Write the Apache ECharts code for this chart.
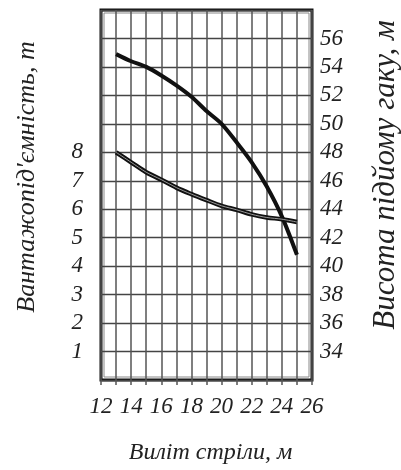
<!DOCTYPE html>
<html lang="uk">
<head>
    <meta charset="UTF-8">
    <title>Вантажна характеристика крана</title>
    <script src="https://cdn.jsdelivr.net/npm/echarts@6.0.0/dist/echarts.min.js"></script>
    <style>
        html, body { margin: 0; padding: 0; background: #fff; }
    </style>
</head>
<body>
<div id="chart" style="width: 401px;height:470px"></div>
<script>
    // виліт стріли, м
    var reach = [13, 14, 15, 16, 17, 18, 19, 20, 21, 22, 23, 24, 25];
    // вантажопідйомність, т (ліва вісь)
    var capacity = [8.0, 7.65, 7.3, 7.04, 6.76, 6.53, 6.32, 6.12, 5.98, 5.82, 5.71, 5.65, 5.55];
    // висота підйому гаку, м (права вісь)
    var hookHeight = [54.9, 54.4, 54.0, 53.4, 52.7, 51.9, 50.9, 50.0, 48.7, 47.3, 45.6, 43.5, 40.8];

    var xTicks = [12, 14, 16, 18, 20, 22, 24, 26];
    var leftTicks = [1, 2, 3, 4, 5, 6, 7, 8];
    var rightTicks = [34, 36, 38, 40, 42, 44, 46, 48, 50, 52, 54, 56];

    var font = 'Liberation Serif';

    function pairs(xs, ys) {
        return xs.map(function (x, i) { return [x, ys[i]]; });
    }

    var chart = echarts.init(document.getElementById('chart'), null, {renderer: 'canvas'});

    var option = {
        backgroundColor: '#fff',
        animation: false,
        grid: {
            left: 101, right: 89, top: 10, bottom: 90,
            show: true,
            borderWidth: 3,
            borderColor: '#111'
        },
        xAxis: {
            type: 'value',
            min: 12, max: 26, interval: 1,
            name: 'Виліт стріли, м',
            nameLocation: 'middle',
            nameGap: 61,
            nameTextStyle: {fontFamily: font, fontStyle: 'italic', fontSize: 24, color: '#222', padding: [0, 0, 0, 8]},
            axisLine: {show: false},
            axisTick: {show: true, length: 5, lineStyle: {color: '#555', width: 1.5}},
            axisLabel: {
                margin: 15,
                fontFamily: font, fontStyle: 'italic', fontSize: 23, color: '#222',
                formatter: function (v) { return xTicks.indexOf(v) >= 0 ? String(v) : ''; }
            },
            splitLine: {lineStyle: {color: '#555', width: 1.5}}
        },
        yAxis: [
            {
                type: 'value',
                min: 0, max: 13, interval: 1,
                axisLine: {show: false},
                axisTick: {show: false},
                axisLabel: {
                    margin: 18,
                    fontFamily: font, fontStyle: 'italic', fontSize: 23, color: '#222',
                    formatter: function (v) { return leftTicks.indexOf(v) >= 0 ? String(v) : ''; }
                },
                splitLine: {lineStyle: {color: '#444', width: 1.3}}
            },
            {
                type: 'value',
                position: 'right',
                min: 32, max: 58, interval: 2,
                axisLine: {show: false},
                axisTick: {show: false},
                axisLabel: {
                    margin: 8,
                    padding: [0, 0, 14, 0],
                    fontFamily: font, fontStyle: 'italic', fontSize: 23, color: '#222',
                    formatter: function (v) { return rightTicks.indexOf(v) >= 0 ? String(v) : ''; }
                },
                splitLine: {show: false}
            }
        ],
        graphic: [
            {
                type: 'rect',
                shape: {x: 104, y: 13, width: 205, height: 364},
                style: {fill: 'none', stroke: '#888', lineWidth: 1},
                silent: true
            },
            {
                type: 'text',
                x: 27, y: 177,
                rotation: Math.PI / 2,
                style: {
                    text: 'Вантажопід\'ємність, т',
                    font: 'italic 26px "Liberation Serif"',
                    fill: '#222',
                    align: 'center',
                    verticalAlign: 'middle'
                }
            },
            {
                type: 'text',
                x: 386, y: 175,
                rotation: Math.PI / 2,
                style: {
                    text: 'Висота підйому гаку, м',
                    font: 'italic 31px "Liberation Serif"',
                    fill: '#222',
                    align: 'center',
                    verticalAlign: 'middle'
                }
            }
        ],
        series: [
            {
                type: 'line',
                yAxisIndex: 1,
                data: pairs(reach, hookHeight),
                smooth: 0.3,
                symbol: 'none',
                lineStyle: {color: '#111', width: 4}
            },
            {
                type: 'line',
                yAxisIndex: 0,
                data: pairs(reach, capacity),
                smooth: 0.3,
                symbol: 'none',
                lineStyle: {color: '#111', width: 4.5}
            },
            {
                // світла середина подвійної лінії
                type: 'line',
                yAxisIndex: 0,
                data: pairs(reach, capacity),
                smooth: 0.3,
                symbol: 'none',
                lineStyle: {color: '#999', width: 1}
            }
        ]
    };

    chart.setOption(option);
</script>
</body>
</html>
